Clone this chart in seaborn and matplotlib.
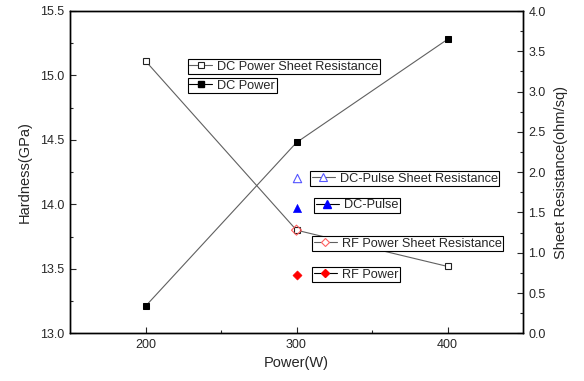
import matplotlib
matplotlib.use("Agg")
import matplotlib.pyplot as plt
from matplotlib.lines import Line2D
import seaborn as sns
import pandas as pd

# Data
power_dc = [200, 300, 400]
hardness_dc = [13.21, 14.48, 15.28]
sheet_dc = [3.38, 1.28, 0.83]

power_pulse = [300]
hardness_pulse = [13.97]
sheet_pulse = [1.93]

power_rf = [300]
hardness_rf = [13.45]
sheet_rf = [1.28]

sns.set_style("ticks")
plt.rcParams['font.family'] = ['Liberation Sans', 'DejaVu Sans']
plt.rcParams['xtick.direction'] = 'in'
plt.rcParams['ytick.direction'] = 'in'

W, H = 584, 381
fig = plt.figure(figsize=(W / 100, H / 100), dpi=100)
ax = fig.add_axes([70 / W, 1 - 333.3 / H, (523 - 70) / W, (333.3 - 11) / H])
ax2 = ax.twinx()

line_col = '#606060'
blue = '#0000ff'
red = '#ff0000'

df_dc = pd.DataFrame({'Power': power_dc, 'Hardness': hardness_dc, 'Sheet': sheet_dc})

# DC Power hardness (left)
sns.lineplot(data=df_dc, x='Power', y='Hardness', ax=ax, color=line_col, lw=0.8,
             marker='s', markersize=5, markerfacecolor='black', markeredgecolor='black',
             zorder=3)
sns.scatterplot(x=power_pulse, y=hardness_pulse, ax=ax, marker='^', s=34, color=blue,
                edgecolor=blue, zorder=4)
sns.scatterplot(x=power_rf, y=hardness_rf, ax=ax, marker='D', s=22, color=red,
                edgecolor=red, zorder=4)

# Sheet resistance (right)
sns.lineplot(data=df_dc, x='Power', y='Sheet', ax=ax2, color=line_col, lw=0.8,
             marker='s', markersize=5, markerfacecolor='white', markeredgecolor='#222222',
             markeredgewidth=0.8, zorder=3)
sns.scatterplot(x=power_pulse, y=sheet_pulse, ax=ax2, marker='^', s=36, facecolor='white',
                edgecolor='#5555ff', linewidth=0.8, zorder=4)
sns.scatterplot(x=power_rf, y=sheet_rf, ax=ax2, marker='D', s=26, facecolor='none',
                edgecolor='#ff6060', linewidth=0.8, zorder=4)

ax.set_xlim(150, 450)
ax.set_ylim(13.0, 15.5)
ax2.set_ylim(0.0, 4.0)
ax.set_xticks([200, 300, 400])
ax.set_xticks([250, 350], minor=True)
ax.set_yticks([13.0, 13.5, 14.0, 14.5, 15.0, 15.5])
ax.set_yticks([13.25, 13.75, 14.25, 14.75, 15.25], minor=True)
ax2.set_yticks([0.0, 0.5, 1.0, 1.5, 2.0, 2.5, 3.0, 3.5, 4.0])
ax2.set_yticks([0.25, 0.75, 1.25, 1.75, 2.25, 2.75, 3.25, 3.75], minor=True)
ax.yaxis.set_major_formatter(matplotlib.ticker.FormatStrFormatter('%.1f'))
ax2.yaxis.set_major_formatter(matplotlib.ticker.FormatStrFormatter('%.1f'))

for a in (ax, ax2):
    a.tick_params(which='major', length=4, width=0.8, labelsize=9, direction='in', pad=4)
    a.tick_params(which='minor', length=2.5, width=0.8, direction='in')
    for s in a.spines.values():
        s.set_linewidth(1.0)
        s.set_color('black')
ax.tick_params(axis='y', which='both', left=True, right=False)
ax2.tick_params(axis='y', which='both', right=True, left=False)
ax.tick_params(axis='x', which='both', top=False)

ax.set_xlabel('Power(W)', fontsize=10.5, labelpad=4)
ax.set_ylabel('Hardness(GPa)', fontsize=10.5, labelpad=6)
ax2.set_ylabel('Sheet Resistance(ohm/sq)', fontsize=10.5, labelpad=6)

# Legends
def add_leg(handle, label, x, y):
    leg = fig.legend([handle], [label], loc='upper left',
                     bbox_to_anchor=(x / W, 1 - y / H), bbox_transform=fig.transFigure,
                     borderaxespad=0, fontsize=9.2, frameon=True, fancybox=False,
                     edgecolor='black', framealpha=1, handlelength=1.8,
                     handletextpad=0.4, borderpad=0.12, numpoints=1)
    leg.get_frame().set_linewidth(0.8)
    return leg

h1 = Line2D([], [], color=line_col, lw=0.8, marker='s', markersize=4.5, markerfacecolor='white',
            markeredgecolor='#222222', markeredgewidth=0.8)
h2 = Line2D([], [], color='black', lw=0.8, marker='s', markersize=4.5, markerfacecolor='black',
            markeredgecolor='black')
h3 = Line2D([], [], color=line_col, lw=0.8, marker='^', markersize=5.5, markerfacecolor='white',
            markeredgecolor='#5555ff', markeredgewidth=0.8)
h4 = Line2D([], [], color='black', lw=0.8, marker='^', markersize=5.5, markerfacecolor=blue,
            markeredgecolor=blue)
h5 = Line2D([], [], color=line_col, lw=0.8, marker='D', markersize=4.5, markerfacecolor='white',
            markeredgecolor='#ff6060', markeredgewidth=0.8)
h6 = Line2D([], [], color='black', lw=0.8, marker='D', markersize=4.5, markerfacecolor=red,
            markeredgecolor=red)

add_leg(h1, 'DC Power Sheet Resistance', 187.7, 59.3)
add_leg(h2, 'DC Power', 187.7, 78.3)
add_leg(h3, 'DC-Pulse Sheet Resistance', 310, 171)
add_leg(h4, 'DC-Pulse', 314, 197.7)
add_leg(h5, 'RF Power Sheet Resistance', 312.3, 236)
add_leg(h6, 'RF Power', 312.3, 267.3)

fig.savefig('out.png', dpi=100)
